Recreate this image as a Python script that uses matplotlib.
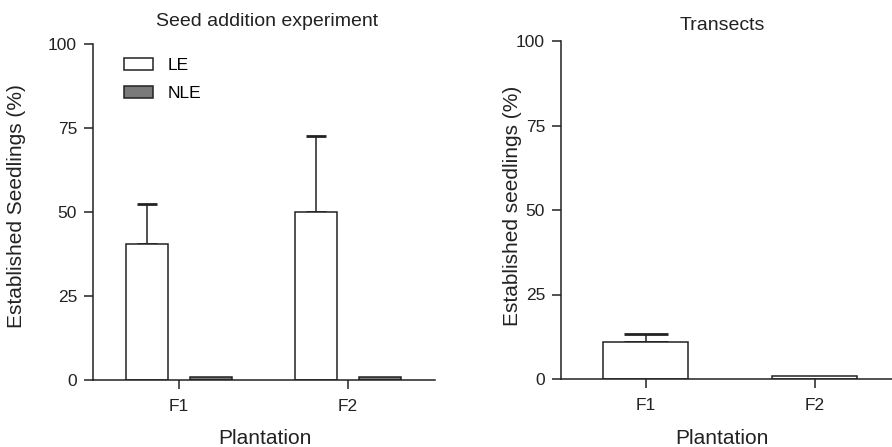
import matplotlib
matplotlib.use("Agg")
import matplotlib.pyplot as plt
import numpy as np

plt.rcParams['font.family'] = ['Liberation Sans', 'DejaVu Sans']

# data
groups = ['F1', 'F2']
seed_le = [40.5, 50.0]
seed_le_err = [12.0, 22.5]
seed_nle = [1.0, 1.0]
transect = [11.0, 1.0]
transect_err = [2.2, 0.0]
yticks = [0, 25, 50, 75, 100]

W, H = 892, 447
fig = plt.figure(figsize=(W / 100, H / 100), dpi=100)

def px_axes(x0, x1, ytop, ybot):
    return fig.add_axes([x0 / W, (H - ybot) / H, (x1 - x0) / W, (ybot - ytop) / H])

ink = '#222222'

def style(ax):
    for s in ['top', 'right']:
        ax.spines[s].set_visible(False)
    for s in ['left', 'bottom']:
        ax.spines[s].set_linewidth(1.1)
        ax.spines[s].set_color(ink)
    ax.tick_params(axis='both', length=6.5, width=1.1, color=ink, labelsize=12.5,
                   labelcolor=ink, pad=5)
    ax.tick_params(axis='x', pad=7)
    ax.set_ylim(0, 100)
    ax.set_yticks(yticks)
    ax.set_yticklabels([str(t) for t in yticks])

x = np.arange(len(groups))

# left panel
ax1 = px_axes(93, 435, 44, 380)
style(ax1)
bw = 0.25
off = 0.1875
ax1.bar(x - off, seed_le, bw, color='white', edgecolor=ink, linewidth=1.1, label='LE', zorder=2)
ax1.bar(x + off, seed_nle, bw, color='#7a7a7a', edgecolor=ink, linewidth=1.1, label='NLE', zorder=2)
ax1.errorbar(x - off, seed_le, yerr=[np.zeros(2), seed_le_err], fmt='none', ecolor=ink,
             elinewidth=1.1, capsize=7.5, capthick=2.0, zorder=1)
ax1.set_xlim(-0.509, 1.515)
ax1.set_xticks(x)
ax1.set_xticklabels(groups)
ax1.legend(loc='upper left', bbox_to_anchor=(124 / W, 1 - 58 / H), bbox_transform=fig.transFigure,
           frameon=False, fontsize=12.5, handlelength=1.65, handleheight=0.62,
           handletextpad=0.85, labelspacing=0.75, borderpad=0, borderaxespad=0)
fig.text(267 / W, 1 - 22 / H, 'Seed addition experiment', ha='center', va='center',
         fontsize=14, color=ink)
fig.text(17 / W, 1 - 206 / H, 'Established Seedlings (%)', ha='center', va='center',
         rotation=90, fontsize=15, color=ink)
fig.text(265 / W, 1 - 438 / H, 'Plantation', ha='center', va='center', fontsize=15, color=ink)

# right panel
ax2 = px_axes(561, 892, 41, 379)
style(ax2)
ax2.bar(x, transect, 0.5, color='white', edgecolor=ink, linewidth=1.1, zorder=2)
ax2.errorbar(x[:1], transect[:1], yerr=[[0], transect_err[:1]], fmt='none', ecolor=ink,
             elinewidth=1.1, capsize=15.5, capthick=2.0, zorder=1)
ax2.set_xlim(-0.501, 1.457)
ax2.set_xticks(x)
ax2.set_xticklabels(groups)
fig.text(722 / W, 1 - 25 / H, 'Transects', ha='center', va='center', fontsize=14, color=ink)
fig.text(513 / W, 1 - 206 / H, 'Established seedlings (%)', ha='center', va='center',
         rotation=90, fontsize=15, color=ink)
fig.text(722 / W, 1 - 438 / H, 'Plantation', ha='center', va='center', fontsize=15, color=ink)

fig.savefig('out.png', dpi=100)
